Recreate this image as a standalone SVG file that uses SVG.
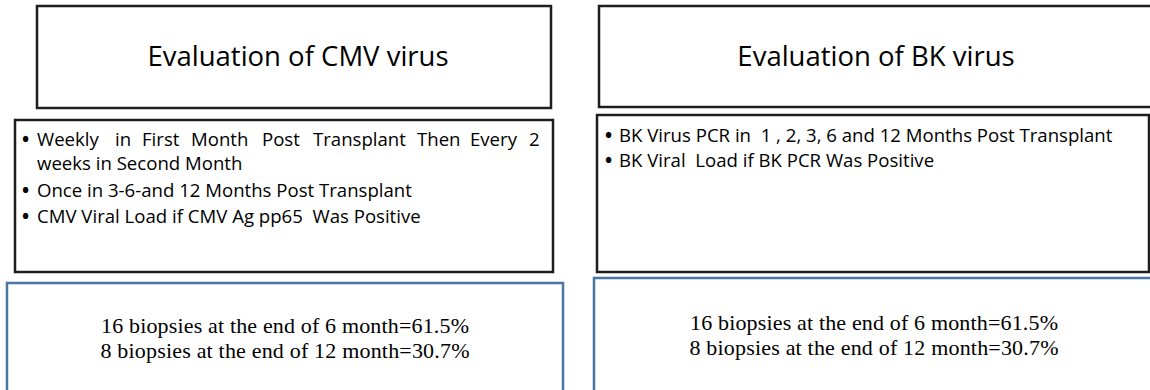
<svg xmlns="http://www.w3.org/2000/svg" width="1150" height="390" viewBox="0 0 1150 390">
<style>
.box{fill:#fff;stroke:#1e1e1e;stroke-width:2.5}
.res{fill:#fff;stroke:#4a76a6;stroke-width:2.5}
.title{font-family:"Open Sans","Liberation Sans",sans-serif;font-size:27.5px;fill:#000;text-anchor:middle}
.bul{font-family:"Open Sans","Liberation Sans",sans-serif;font-size:18.6px;fill:#000;white-space:pre}
.dot{font-size:19px;font-weight:700}
.stat{font-family:"Liberation Serif","Times New Roman",serif;font-size:22px;fill:#000;text-anchor:middle}
</style>
<g id="connectors"></g>
<g id="cmv-title">
<rect class="box" x="37" y="6" width="514" height="102"/>
<text class="title" x="298" y="66">Evaluation of CMV virus</text>
</g>
<g id="cmv-schedule">
<rect class="box" x="15" y="120" width="538" height="152"/>
<text class="bul" y="146"><tspan class="dot" x="22">•</tspan><tspan x="37">Weekly</tspan><tspan x="115">in</tspan><tspan x="142">First</tspan><tspan x="191">Month</tspan><tspan x="262">Post</tspan><tspan x="313">Transplant</tspan><tspan x="417">Then</tspan><tspan x="470">Every</tspan><tspan x="529">2</tspan></text>
<text class="bul" x="37" y="170">weeks in Second Month</text>
<text class="bul" y="197"><tspan class="dot" x="22">•</tspan><tspan x="37">Once in 3-6-and 12 Months Post Transplant</tspan></text>
<text class="bul" y="223"><tspan class="dot" x="22">•</tspan><tspan x="37">CMV Viral Load if CMV Ag pp65  Was Positive</tspan></text>
</g>
<g id="cmv-result">
<rect class="res" x="7" y="283" width="556" height="130"/>
<text class="stat" x="285" y="333" textLength="368" lengthAdjust="spacing">16 biopsies at the end of 6 month=61.5%</text>
<text class="stat" x="285" y="358" textLength="369" lengthAdjust="spacing">8 biopsies at the end of 12 month=30.7%</text>
</g>
<g id="bk-title">
<rect class="box" x="599" y="6" width="570" height="101"/>
<text class="title" x="876" y="66">Evaluation of BK virus</text>
</g>
<g id="bk-schedule">
<rect class="box" x="597" y="115" width="552" height="157"/>
<text class="bul" y="142"><tspan class="dot" x="605">•</tspan><tspan x="619">BK Virus PCR in  1 , 2, 3, 6 and 12 Months Post Transplant</tspan></text>
<text class="bul" y="167"><tspan class="dot" x="605">•</tspan><tspan x="619">BK Viral  Load if BK PCR Was Positive</tspan></text>
</g>
<g id="bk-result">
<rect class="res" x="594" y="278" width="580" height="130"/>
<text class="stat" x="874" y="330" textLength="368" lengthAdjust="spacing">16 biopsies at the end of 6 month=61.5%</text>
<text class="stat" x="874" y="355" textLength="369" lengthAdjust="spacing">8 biopsies at the end of 12 month=30.7%</text>
</g>
</svg>
